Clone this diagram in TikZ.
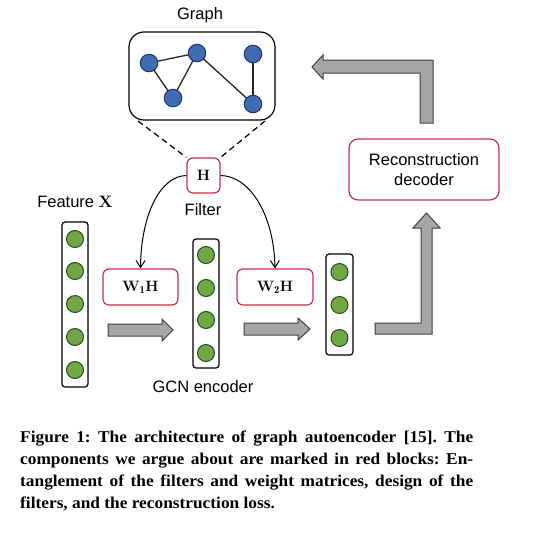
\documentclass[tikz,border=0pt]{standalone}
\usepackage{fontspec}
\setsansfont{Liberation Sans}
\newfontfamily\capfont[FakeStretch=1.05]{Liberation Serif}
\usetikzlibrary{arrows.meta}
\definecolor{redc}{HTML}{C8304A}
\definecolor{gfill}{HTML}{6FA845}
\definecolor{gdark}{HTML}{2E4A1E}
\definecolor{bfill}{HTML}{3F6DB3}
\definecolor{bdark}{HTML}{1E3563}
\definecolor{afill}{HTML}{A6A6A6}
\tikzset{
  lbl/.style={font=\fontsize{16.5}{19}\selectfont\sffamily, inner sep=0pt},
  redbox/.style={draw=redc, line width=1.2pt, rounded corners=6pt, fill=white, inner sep=0pt},
  gnode/.style={circle, draw=gdark, fill=gfill, line width=1pt, minimum size=17pt, inner sep=0pt},
  bnode/.style={circle, draw=bdark, fill=bfill, line width=1pt, minimum size=17.5pt, inner sep=0pt},
  colbox/.style={draw, line width=1.2pt, rounded corners=3pt, fill=white, inner sep=0pt},
  blk/.style={draw=black!75, fill=afill, line width=1pt, line join=miter},
  gedge/.style={draw=black!85, line width=1.3pt},
  mathlbl/.style={font=\fontsize{15}{18}\selectfont\bfseries},
  curvearr/.style={line width=1pt, -{Straight Barb[length=7pt,width=9pt]}}
}
\begin{document}
\begin{tikzpicture}[x=1pt,y=-1pt]
\useasboundingbox (0,0) rectangle (551,533);
% Graph
\node[lbl] (gtitle) at (200,15) {Graph};
\node[draw, line width=1.2pt, rounded corners=15pt, minimum width=146pt, minimum height=88pt, inner sep=0pt] (gbox) at (202,76) {};
\coordinate (p1) at (149,63);
\coordinate (p2) at (197,53);
\coordinate (p3) at (173,98);
\coordinate (p4) at (253,54);
\coordinate (p5) at (253,104);
\draw[gedge] (p1) -- (p2);
\draw[gedge] (p1) -- (p3);
\draw[gedge] (p3) -- (p2);
\draw[gedge] (p2) -- (p5);
\draw[gedge] (p4) -- (p5);
\node[bnode] (n1) at (p1) {};
\node[bnode] (n2) at (p2) {};
\node[bnode] (n3) at (p3) {};
\node[bnode] (n4) at (p4) {};
\node[bnode] (n5) at (p5) {};
% Filter
\node[redbox, minimum width=33pt, minimum height=35pt, font=\fontsize{15}{17}\selectfont\bfseries] (H) at (203.5,175.5) {H};
\coordinate (dl) at (138,121);
\coordinate (dr) at (265,121);
\draw[line width=1.2pt, dash pattern=on 6pt off 4pt] (dl) -- (H.north west);
\draw[line width=1.2pt, dash pattern=on 6pt off 4pt] (dr) -- (H.north east);
\node[lbl] (filt) at (203,210) {Filter};
% Feature
\node[lbl] (feat) at (75,202) {Feature \textbf{\fontspec{Latin Modern Roman}X}};
% column 1
\node[colbox, minimum width=26pt, minimum height=165pt] (c1) at (75,304.5) {};
\foreach \y [count=\i] in {239,271,304,337,370} \node[gnode] (a\i) at (75,\y) {};
% column 2
\node[colbox, minimum width=26pt, minimum height=129pt] (c2) at (206,303.5) {};
\foreach \y [count=\i] in {255,288,320,353} \node[gnode] (b\i) at (206,\y) {};
% column 3
\node[colbox, minimum width=27pt, minimum height=101pt] (c3) at (339.5,304.5) {};
\foreach \y [count=\i] in {272,305,338} \node[gnode] (e\i) at (339.5,\y) {};
% weight boxes
\node[redbox, minimum width=75pt, minimum height=36pt, mathlbl] (W1) at (140.5,287) {W$_{\mathbf{1}}$H};
\node[redbox, minimum width=76pt, minimum height=36pt, mathlbl] (W2) at (275,287) {W$_{\mathbf{2}}$H};
% curves
\draw[curvearr] (H.west) .. controls (160,176) and (141,215) .. (W1.north);
\draw[curvearr] (H.east) .. controls (250,176) and (274,215) .. (W2.north);
\node[lbl] (gcn) at (203,387) {GCN encoder};
% block arrows
\draw[blk] (108,324) -- (162,324) -- (162,319) -- (173,330) -- (162,341) -- (162,336) -- (108,336) -- cycle;
\draw[blk] (244,323) -- (298,323) -- (298,318) -- (310,329) -- (298,340) -- (298,335) -- (244,335) -- cycle;
% decoder
\node[redbox, minimum width=150pt, minimum height=61pt, lbl, align=center, rounded corners=9pt, draw=redc] (rec) at (424,169.5) {Reconstruction\\[1pt]decoder};
\draw[blk] (375,323) -- (421,323) -- (421,228) -- (413,228) -- (426.5,213) -- (440,228) -- (432,228) -- (432,334) -- (375,334) -- cycle;
\draw[blk] (420,123) -- (420,73) -- (323,73) -- (323,79) -- (312,67) -- (323,55) -- (323,60) -- (433,60) -- (433,123) -- cycle;
% caption
\node[anchor=north west, inner sep=0pt, text width=453pt, align=justify, font=\capfont\bfseries\fontsize{16.5}{22}\selectfont\frenchspacing] (cap) at (20,431) {%
Figure 1: The architecture of graph autoencoder [15]. The\linebreak
components we argue about are marked in red blocks: En-\linebreak
tanglement of the filters and weight matrices, design of the\linebreak
filters, and the reconstruction loss.};
\end{tikzpicture}
\end{document}
